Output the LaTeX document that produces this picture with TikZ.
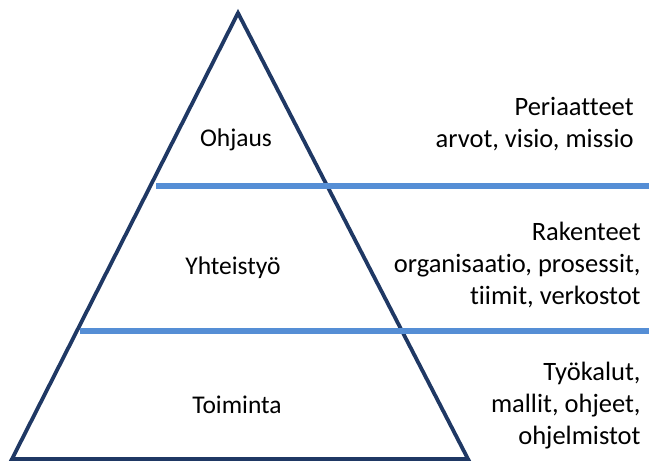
\documentclass[tikz,border=0pt]{standalone}
\usepackage{fontspec}
\setmainfont[Ligatures=NoCommon]{Carlito}
\usepackage{tikz}
\usetikzlibrary{positioning}
\definecolor{navy}{RGB}{31,56,100}
\definecolor{layerblue}{RGB}{85,142,213}
\tikzset{every picture/.style={line width=0.8pt}}

\begin{document}
\begin{tikzpicture}[x=1pt, y=-1pt,
    level/.style={font=\fontsize{25.5}{32}\selectfont, align=center},
    side/.style={font=\fontsize{26.5}{32}\selectfont, align=right, anchor=east, inner sep=0pt},
    edge/.style={draw=navy, line width=3.8pt, line join=miter},
    band/.style={draw=layerblue, line width=6pt}]
\useasboundingbox (0,0) rectangle (649,462);
    % Pyramid corners
\coordinate (apex) at (238,13);
\coordinate (bl) at (12,459);
\coordinate (br) at (468,459);
\draw[edge] (apex) -- (br) -- (bl) -- cycle;

    % Layer separators
\coordinate (b1l) at (156,186);
\coordinate (b1r) at (649,186);
\coordinate (b2l) at (80,331);
\coordinate (b2r) at (649,331);
\draw[band] (b1l) -- (b1r);
\draw[band] (b2l) -- (b2r);

    % Levels inside the pyramid
\node[level] (ohjaus) at (236,140) {Ohjaus};
\node[level] (yhteistyo) at (233,268) {Yhteistyö};
\node[level] (toiminta) at (237,405) {Toiminta};

    % Descriptions on the right
\node[side] (periaatteet) at (634,124) {Periaatteet\\arvot, visio, missio};
\node[side] (rakenteet) at (641,265) {Rakenteet\\organisaatio, prosessit,\\tiimit, verkostot};
\node[side] (tyokalut) at (641,406) {Työkalut,\\mallit, ohjeet,\\ohjelmistot};
\end{tikzpicture}
\end{document}
